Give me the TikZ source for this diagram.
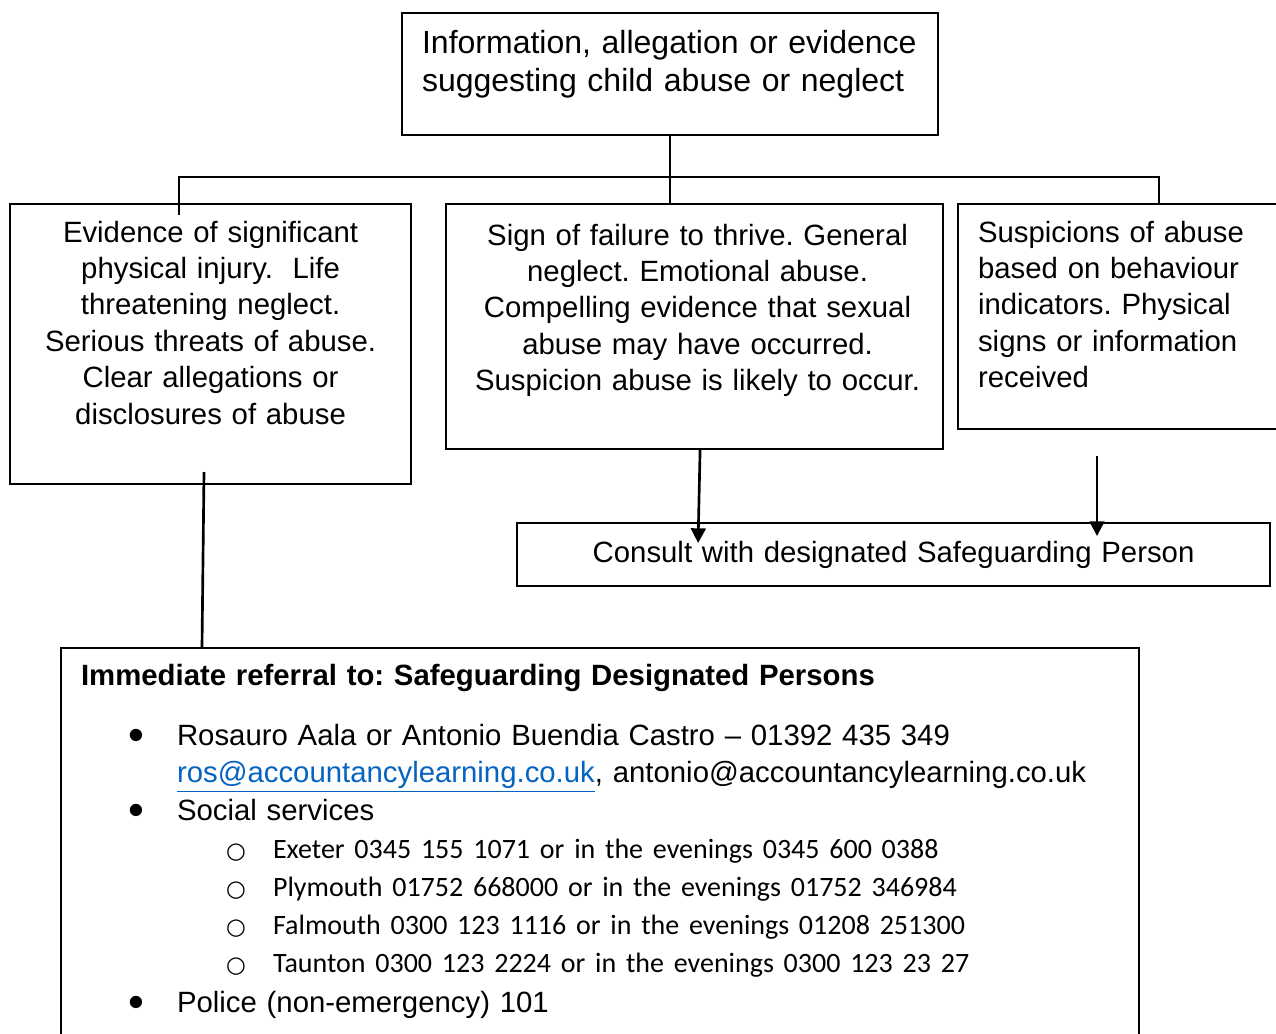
\documentclass[tikz,border=0pt]{standalone}
\usepackage{fontspec}
\setmainfont{Liberation Sans}
\newfontfamily\calibrifont{Carlito}
\newfontfamily\dejavufont{DejaVu Sans}
\usepackage{xcolor}
\usetikzlibrary{arrows.meta}
\definecolor{linkblue}{HTML}{0563C1}
\newdimen\px \px=0.375pt
\newcommand{\bul}{\makebox[96\px][l]{\hspace*{47\px}\raisebox{-2.2pt}{\fontsize{17}{17}\selectfont\textbullet}}}
\newcommand{\subbul}{\makebox[192\px][l]{\hspace*{145\px}{\dejavufont\fontsize{8.5}{8.5}\selectfont ○}}}
\tikzset{
  flow/box/.style={draw, line width=0.8pt, anchor=north west, inner ysep=0pt,
    font=\fontsize{11}{13.65}\selectfont},
  flow/tree/.style={line width=0.6pt},
  flow/link/.style={line width=1pt},
  flow/arr/.style={line width=1pt, -{Triangle[length=5.5pt,width=5.5pt]}}
}

\begin{document}
\frenchspacing
\begin{tikzpicture}[x=0.375pt, y=-0.375pt]
  \clip (0,0) rectangle (1276,1033);
  \fill[white] (0,0) rectangle (1276,1033);

  \node[flow/box, inner xsep=20*\px, text width=496*\px, text height=40*\px, text depth=82*\px,
    align=left, font=\fontsize{12}{14.25}\selectfont] (info) at (401,12)
    {Information, allegation or evidence\\ suggesting child abuse or neglect};

  \node[flow/box, inner xsep=10*\px, text width=381*\px, text height=38*\px, text depth=242*\px,
    align=center] (evid) at (9,203)
    {Evidence of significant\\ physical injury.\ \ Life\\ threatening neglect.\\
     Serious threats of abuse.\\ Clear allegations or\\ disclosures of abuse};
  \node[flow/box, inner xsep=10*\px, text width=477*\px, text height=41*\px, text depth=204*\px,
    align=center] (sign) at (445,203)
    {\hspace*{6\px}Sign of failure to thrive. General\\ \hspace*{6\px}neglect. Emotional abuse.\\
     \hspace*{6\px}Compelling evidence that sexual\\ \hspace*{6\px}abuse may have occurred.\\
     \hspace*{6\px}Suspicion abuse is likely to occur.};
  \node[flow/box, inner xsep=20*\px, text width=362*\px, text height=38*\px, text depth=187*\px,
    align=left] (susp) at (957,203)
    {Suspicions of abuse\\ based on behaviour\\ indicators. Physical\\ signs or information\\ received};

  \node[flow/box, inner xsep=10*\px, text width=733*\px, text height=39*\px, text depth=24*\px,
    align=center] (consult) at (516,522)
    {Consult with designated Safeguarding Person};

  \node[flow/box, inner xsep=20*\px, text width=1038*\px, text height=37*\px, text depth=383*\px,
    align=left, font=\fontsize{11}{14.25}\selectfont] (refer) at (60,647)
    {{\bfseries Immediate referral to: Safeguarding Designated Persons}\\[22\px]
     \bul Rosauro Aala or Antonio Buendia Castro – 01392 435 349\\[-1\px]
     \hspace*{96\px}\textcolor{linkblue}{\underline{ros@accountancylearning.co.uk}}, antonio@accountancylearning.co.uk\\
     \bul Social services\\
     \subbul{\calibrifont\fontsize{10.5}{14.25}\selectfont Exeter 0345 155 1071 or in the evenings 0345 600 0388}\\
     \subbul{\calibrifont\fontsize{10.5}{14.25}\selectfont Plymouth 01752 668000 or in the evenings 01752 346984}\\
     \subbul{\calibrifont\fontsize{10.5}{14.25}\selectfont Falmouth 0300 123 1116 or in the evenings 01208 251300}\\
     \subbul{\calibrifont\fontsize{10.5}{14.25}\selectfont Taunton 0300 123 2224 or in the evenings 0300 123 23 27}\\[2\px]
     \bul Police (non-emergency) 101};

  % tree from the top box
  \path (info.south) ++(0,41) coordinate (split);
  \coordinate (evidtop) at (179,215);
  \draw[flow/tree] (info.south) -- (split);
  \draw[flow/tree] (split) -| (evidtop);
  \draw[flow/tree] (split) -| (susp.north);
  \draw[flow/tree] (split) -- (split |- sign.north);

  % arrows to the consult box
  \draw[flow/arr] ([xshift=5.5*\px]sign.south) -- ([xshift=-195.5*\px, yshift=-21*\px]consult.north);
  \coordinate (susptail) at (1097,456);
  \draw[flow/arr] (susptail) -- ([yshift=-14*\px]susptail |- consult.north);

  % line to the referral box
  \coordinate (evidtail) at (204,472);
  \draw[flow/link] (evidtail) -- ([xshift=-2*\px]evidtail |- refer.north);
\end{tikzpicture}
\end{document}
